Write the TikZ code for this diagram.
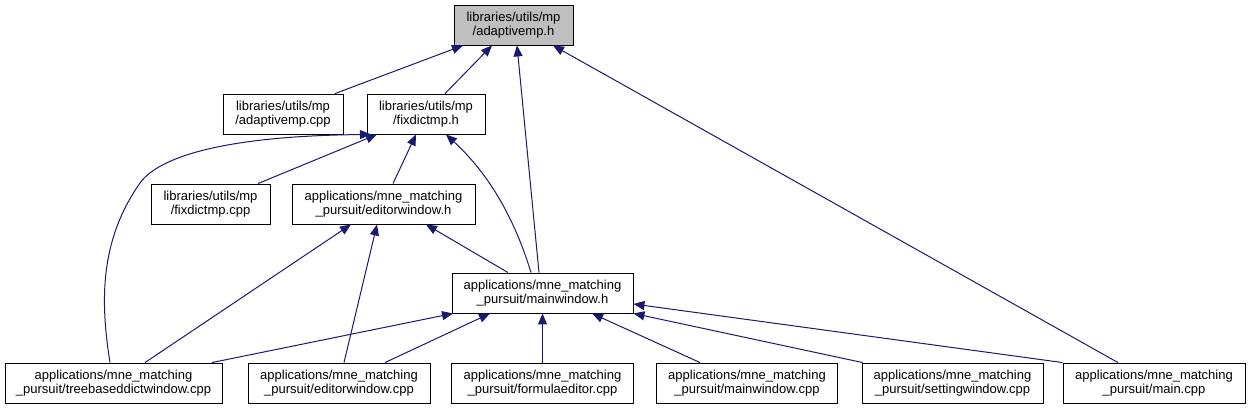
\documentclass[tikz,border=0pt]{standalone}
\usepackage{fontspec}
\setmainfont{Liberation Sans}
\usetikzlibrary{arrows.meta}
\definecolor{edgeblue}{HTML}{191970}
\definecolor{rootgray}{HTML}{BFBFBF}
\begin{document}
\begin{tikzpicture}[x=1pt,y=-1pt,
  box/.style={draw=black,line width=0.9pt,fill=white,minimum height=40pt,inner sep=0pt,align=center,font=\fontsize{13}{14}\selectfont},
  dep/.style={draw=edgeblue,line width=1pt,-{Triangle[length=11pt,width=9pt]}}]
\useasboundingbox (0,0) rectangle (1250,409);
\node[box,fill=rootgray,minimum width=119pt] (A) at (513.5,25) {libraries/utils/mp\\/adaptivemp.h};
\node[box,minimum width=120pt] (B) at (283,114) {libraries/utils/mp\\/adaptivemp.cpp};
\node[box,minimum width=118pt] (F) at (426,114) {libraries/utils/mp\\/fixdictmp.h};
\node[box,minimum width=119pt] (Fc) at (210.5,204) {libraries/utils/mp\\/fixdictmp.cpp};
\node[box,minimum width=183pt] (E) at (383.5,204) {applications/mne\_matching\\\_pursuit/editorwindow.h};
\node[box,minimum width=181pt] (M) at (542.5,293) {applications/mne\_matching\\\_pursuit/mainwindow.h};
\node[box,minimum width=217pt] (T) at (113.5,383) {applications/mne\_matching\\\_pursuit/treebaseddictwindow.cpp};
\node[box,minimum width=182pt] (Ec) at (339,383) {applications/mne\_matching\\\_pursuit/editorwindow.cpp};
\node[box,minimum width=182pt] (Fe) at (542.5,383) {applications/mne\_matching\\\_pursuit/formulaeditor.cpp};
\node[box,minimum width=181pt] (Mc) at (747,383) {applications/mne\_matching\\\_pursuit/mainwindow.cpp};
\node[box,minimum width=181pt] (S) at (952.5,383) {applications/mne\_matching\\\_pursuit/settingwindow.cpp};
\node[box,minimum width=182pt] (Mn) at (1154,383) {applications/mne\_matching\\\_pursuit/main.cpp};
% edges to adaptivemp.h
\draw[dep] ([xshift=52pt]B.north) -- ([xshift=-50.5pt]A.south);
\draw[dep] ([xshift=19pt]F.north) -- ([xshift=-21.5pt]A.south);
\draw[dep] ([xshift=-3.5pt]M.north) -- ([xshift=3.5pt]A.south);
\draw[dep] ([xshift=-36pt]Mn.north) -- ([xshift=39.5pt]A.south);
% edges to fixdictmp.h
\draw[dep] ([xshift=47.5pt]Fc.north) -- ([xshift=-49pt]F.south);
\draw[dep] ([xshift=9.5pt]E.north) -- ([xshift=-10pt]F.south);
\draw[dep] ([xshift=-11.5pt]M.north) .. controls (515,220) and (490,175) .. ([xshift=20pt]F.south);
\draw[dep] ([xshift=-3.5pt]T.north) .. controls (100,300) and (100,240) .. (140,183) .. controls (158,158) and (220,136) .. ([xshift=-55pt]F.south);
% edges to editorwindow.h
\draw[dep] ([xshift=31.5pt]T.north) -- ([xshift=-32.5pt]E.south);
\draw[dep] ([xshift=5pt]Ec.north) -- ([xshift=-6.5pt]E.south);
\draw[dep] ([xshift=-34.5pt]M.north) -- ([xshift=42.5pt]E.south);
% edges to mainwindow.h
\draw[dep] ([xshift=98.5pt]T.north) -- ([xshift=1.5pt]M.south west);
\draw[dep] ([xshift=46pt]Ec.north) -- ([xshift=-52.5pt]M.south);
\draw[dep] (Fe.north) -- (M.south);
\draw[dep] ([xshift=-47pt]Mc.north) -- ([xshift=49.5pt]M.south);
\draw[dep] ([xshift=1pt]S.north west) -- (M.south east);
\draw[dep] (Mn.north west) -- ([yshift=-11pt]M.east);
\end{tikzpicture}
\end{document}
